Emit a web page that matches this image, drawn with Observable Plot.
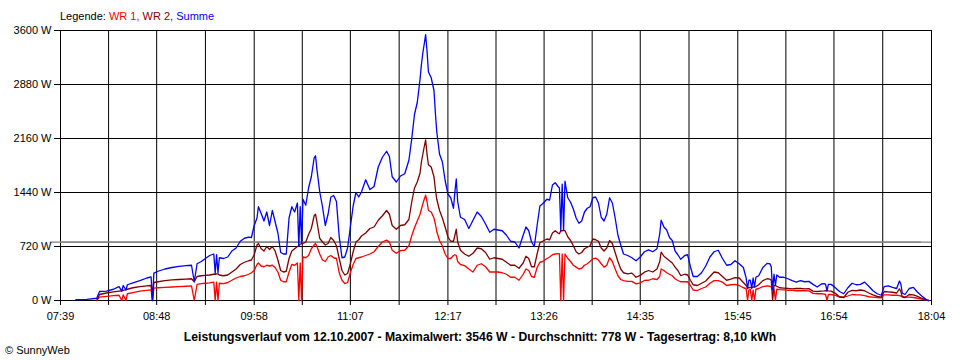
<!DOCTYPE html>
<html>
<head>
<meta charset="utf-8">
<script src="https://cdn.jsdelivr.net/npm/d3@7"></script>
<script src="https://cdn.jsdelivr.net/npm/@observablehq/plot@0.6"></script>
<style>
  body { margin: 0; background: #fff; font-family: "Liberation Sans", Arial, sans-serif; color: #000; }
  #wrap { width: 960px; height: 360px; position: relative; overflow: hidden; }
  #legend { height: 12px; padding-top: 10px; padding-left: 60px; font-size: 11px; line-height: 12px; white-space: pre; }
  #caption { padding-top: 8px; height: 14px; line-height: 14px; text-align: center; font-size: 12.2px; font-weight: bold; }
  #copy { padding-left: 5px; font-size: 11px; line-height: 12px; }
  svg { display: block; }
  #chart svg text { font-size: 11px !important; font-family: "Liberation Sans", Arial, sans-serif; fill: #000; }
</style>
</head>
<body>
<div id="wrap">
  <div id="legend"></div>
  <div id="chart"></div>
  <div id="caption"></div>
  <div id="copy"></div>
</div>
<script>
// ---- data ----
const times = [
  "07:50","07:58","08:05","08:07","08:12","08:17","08:21","08:23","08:24","08:26",
  "08:27","08:31","08:36","08:41","08:44","08:45","08:46","08:49","08:54","08:59",
  "09:04","09:09","09:13","09:15","09:17","09:20","09:23","09:26","09:29","09:30",
  "09:31","09:32","09:33","09:36","09:39","09:42","09:45","09:48","09:51","09:54",
  "09:56","09:58","10:00","10:01","10:03","10:05","10:07","10:09","10:11","10:13",
  "10:15","10:17","10:19","10:21","10:23","10:25","10:27","10:29","10:30","10:31",
  "10:32","10:33","10:35","10:37","10:39","10:41","10:42","10:43","10:45","10:47",
  "10:49","10:51","10:53","10:55","10:57","10:59","11:01","11:03","11:05","11:07",
  "11:09","11:11","11:13","11:15","11:18","11:21","11:24","11:27","11:30","11:33",
  "11:35","11:37","11:40","11:43","11:46","11:49","11:51","11:53","11:55","11:57",
  "11:58","11:59","12:00","12:01","12:02","12:03","12:05","12:07","12:08","12:09",
  "12:11","12:13","12:15","12:17","12:19","12:21","12:22","12:23","12:24","12:26",
  "12:29","12:32","12:35","12:38","12:41","12:44","12:47","12:50","12:53","12:56",
  "12:59","13:02","13:05","13:08","13:11","13:13","13:15","13:17","13:19","13:21",
  "13:23","13:25","13:28","13:30","13:32","13:34","13:36","13:37","13:38","13:39",
  "13:40","13:41","13:43","13:45","13:47","13:49","13:51","13:53","13:55","13:57",
  "13:59","14:01","14:03","14:05","14:07","14:09","14:11","14:13","14:15","14:17",
  "14:19","14:21","14:23","14:26","14:29","14:32","14:35","14:38","14:41","14:44",
  "14:47","14:49","14:50","14:52","14:54","14:56","14:58","15:00","15:02","15:04",
  "15:07","15:09","15:11","15:13","15:16","15:19","15:22","15:25","15:28","15:31",
  "15:34","15:37","15:40","15:43","15:46","15:49","15:51","15:52","15:53","15:54",
  "15:55","15:56","15:57","15:58","16:00","16:03","16:06","16:08","16:09","16:10",
  "16:11","16:12","16:13","16:15","16:18","16:21","16:24","16:27","16:30","16:33",
  "16:36","16:39","16:42","16:45","16:47","16:48","16:49","16:50","16:52","16:55",
  "16:58","17:01","17:04","17:07","17:10","17:13","17:16","17:19","17:22","17:25",
  "17:28","17:30","17:33","17:36","17:39","17:41","17:42","17:43","17:45","17:48",
  "17:51","17:54","17:57","18:00","18:02"
];
const summe = [
  10,15,30,120,125,150,185,125,200,140,
  210,235,265,300,315,0,365,390,420,440,
  455,465,470,250,490,520,560,600,620,360,
  610,370,570,560,580,660,700,790,830,845,
  840,1000,1100,1250,1160,1060,1180,1000,1200,1050,
  900,640,620,620,1100,1250,1180,1300,720,1250,
  760,1350,1270,1500,1650,1900,1930,1750,1450,1250,
  1000,1150,1380,1400,1320,850,570,580,700,980,
  1260,1440,1380,1450,1610,1480,1520,1780,1910,1990,
  1920,1650,1580,1660,1690,1870,2150,2480,2640,2950,
  3150,3300,3420,3546,3330,3050,2970,2800,2500,2250,
  1950,1850,1600,1420,1370,1230,1450,1620,1320,1110,
  1080,960,1070,1180,1120,1020,910,950,940,930,
  870,790,780,700,870,980,930,780,720,1000,
  1260,1290,1350,1340,1540,1570,1520,1500,930,1550,
  935,1590,1370,1310,1220,1100,1030,1060,1180,1230,
  1250,1370,1380,1300,1110,1060,1150,1370,1300,1100,
  870,740,620,600,570,530,580,650,675,650,
  690,890,1070,980,940,840,800,660,610,550,
  600,610,450,320,320,370,460,580,650,670,
  560,470,480,530,490,440,300,160,270,270,
  160,300,180,310,330,440,495,490,450,140,
  350,200,340,310,310,290,265,245,265,250,
  255,215,180,220,225,215,130,215,215,170,
  120,90,170,230,210,215,245,190,130,90,
  70,185,195,175,160,260,220,100,80,160,
  175,110,60,15,0
];
const wr2 = [
  null,null,0,80,100,115,125,130,135,145,
  150,170,185,195,200,0,240,250,265,275,
  280,285,290,250,320,330,335,340,350,350,
  355,355,340,330,340,380,420,480,510,530,
  540,610,740,760,690,660,720,680,720,660,
  540,400,380,390,560,660,690,720,730,750,
  760,760,780,880,960,1130,1150,1050,830,780,
  740,760,840,800,730,560,400,340,360,490,
  650,780,810,860,900,960,980,1070,1130,1200,
  1150,1000,950,1000,1010,1080,1310,1500,1580,1700,
  1850,1950,2050,2140,1950,1810,1780,1650,1480,1350,
  1200,1100,980,850,790,790,870,950,780,670,
  620,590,630,700,690,640,550,570,560,550,
  510,470,470,430,500,590,560,450,450,620,
  770,790,820,810,900,930,900,890,930,930,
  935,930,850,800,730,650,620,640,690,710,
  730,820,810,790,700,660,700,800,760,640,
  520,420,370,355,365,310,335,378,400,380,
  420,520,644,590,560,530,500,445,400,333,
  350,340,270,210,200,230,260,320,380,370,
  320,270,285,305,300,240,200,170,170,175,
  175,180,180,185,210,265,290,285,270,0,
  200,200,190,170,165,160,155,160,160,155,
  158,125,120,125,128,130,130,128,125,95,
  50,40,110,135,130,140,130,100,75,55,
  45,120,115,110,100,155,120,50,40,80,
  75,55,30,5,0
];
const wr1 = [
  null,null,0,45,55,65,70,0,75,0,
  90,105,125,135,142,0,165,170,175,180,
  185,190,195,0,215,225,230,235,245,0,
  245,0,230,225,240,270,300,320,330,350,
  370,400,480,500,460,450,470,460,470,440,
  380,270,250,250,380,480,470,500,0,500,
  0,580,570,600,690,740,760,720,620,540,
  520,580,600,570,560,370,270,225,240,370,
  480,560,570,580,600,620,650,720,780,805,
  780,670,630,665,670,730,860,970,1060,1150,
  1220,1290,1350,1405,1320,1200,1180,1100,1020,920,
  800,730,620,560,560,600,610,600,520,480,
  465,420,380,470,490,450,380,380,380,370,
  350,310,310,270,350,420,400,320,310,440,
  510,520,560,580,610,620,625,620,0,620,
  0,620,560,520,470,445,420,430,470,490,
  520,556,565,540,490,445,470,570,520,420,
  330,280,265,255,255,222,235,267,270,290,
  280,320,420,400,370,350,330,290,267,250,
  250,250,200,140,133,160,180,230,265,265,
  245,200,210,215,200,170,160,0,140,150,
  0,140,0,150,160,185,195,190,180,150,
  150,0,150,145,142,135,135,130,130,130,
  128,95,90,90,85,80,0,80,80,67,
  45,44,60,80,75,75,65,50,45,40,
  35,75,75,70,70,65,60,50,45,45,
  40,30,20,5,0
];
const xTickLabels = ["07:39","08:48","09:58","11:07","12:17","13:26","14:35","15:45","16:54","18:04"];
const yTicks = [0, 720, 1440, 2160, 2880, 3600];
const average = 778;
const seriesNames = ["WR 1", "WR 2", "Summe"];
const seriesColors = ["#ff0000", "#800000", "#0000ff"];
const captionText = "Leistungsverlauf vom 12.10.2007 - Maximalwert: 3546 W - Durchschnitt: 778 W - Tagesertrag: 8,10 kWh";
const copyrightText = "\u00A9 SunnyWeb";

// ---- build ----
const parseT = s => { const [h, m] = s.split(":").map(Number); return new Date(Date.UTC(2007, 9, 12, h, m)); };
const rows = times.map((s, i) => ({ t: parseT(s), wr1: wr1[i], wr2: wr2[i], summe: summe[i] }));
const major = xTickLabels.map(parseT);
const allTicks = [];
major.forEach((d, i) => {
  allTicks.push(d);
  if (i < major.length - 1) allTicks.push(new Date((+d + +major[i + 1]) / 2));
});
const majorSet = new Map(major.map((d, i) => [+d, xTickLabels[i]]));

const chart = Plot.plot({
  width: 960,
  height: 300,
  marginTop: 8,
  marginBottom: 22,
  marginLeft: 60,
  marginRight: 29,
  style: { fontFamily: "Liberation Sans, Arial, sans-serif", fontSize: "11px", color: "#000", background: "#fff" },
  x: { type: "utc", domain: [major[0], major[major.length - 1]] },
  y: { domain: [0, 3600] },
  marks: [
    Plot.gridX(allTicks, { stroke: "#000", strokeOpacity: 1 }),
    Plot.gridY(yTicks, { stroke: "#000", strokeOpacity: 1 }),
    Plot.ruleY([average], { stroke: "#808080", strokeWidth: 1.2 }),
    Plot.ruleY([average], { stroke: "#808080", strokeWidth: 1.2, dx: -10 }),
    Plot.axisY(yTicks, { tickSize: 6, tickPadding: 3, tickFormat: d => d + " W", label: null, stroke: "#000", fontSize: 11 }),
    Plot.axisX(allTicks, { tickSize: 5, tickPadding: 7, tickFormat: d => majorSet.get(+d) ?? "", label: null, stroke: "#000", fontSize: 11 }),
    Plot.line(rows, { x: "t", y: "wr1", stroke: seriesColors[0], strokeWidth: 1.3 }),
    Plot.line(rows, { x: "t", y: "wr2", stroke: seriesColors[1], strokeWidth: 1.3 }),
    Plot.line(rows, { x: "t", y: "summe", stroke: seriesColors[2], strokeWidth: 1.3 })
  ]
});
document.getElementById("chart").appendChild(chart);

const leg = document.getElementById("legend");
leg.appendChild(document.createTextNode("Legende: "));
seriesNames.forEach((n, i) => {
  const sp = document.createElement("span");
  sp.style.color = seriesColors[i];
  sp.textContent = n + (i < seriesNames.length - 1 ? ", " : "");
  leg.appendChild(sp);
});
document.getElementById("caption").textContent = captionText;
document.getElementById("copy").textContent = copyrightText;
</script>
</body>
</html>
